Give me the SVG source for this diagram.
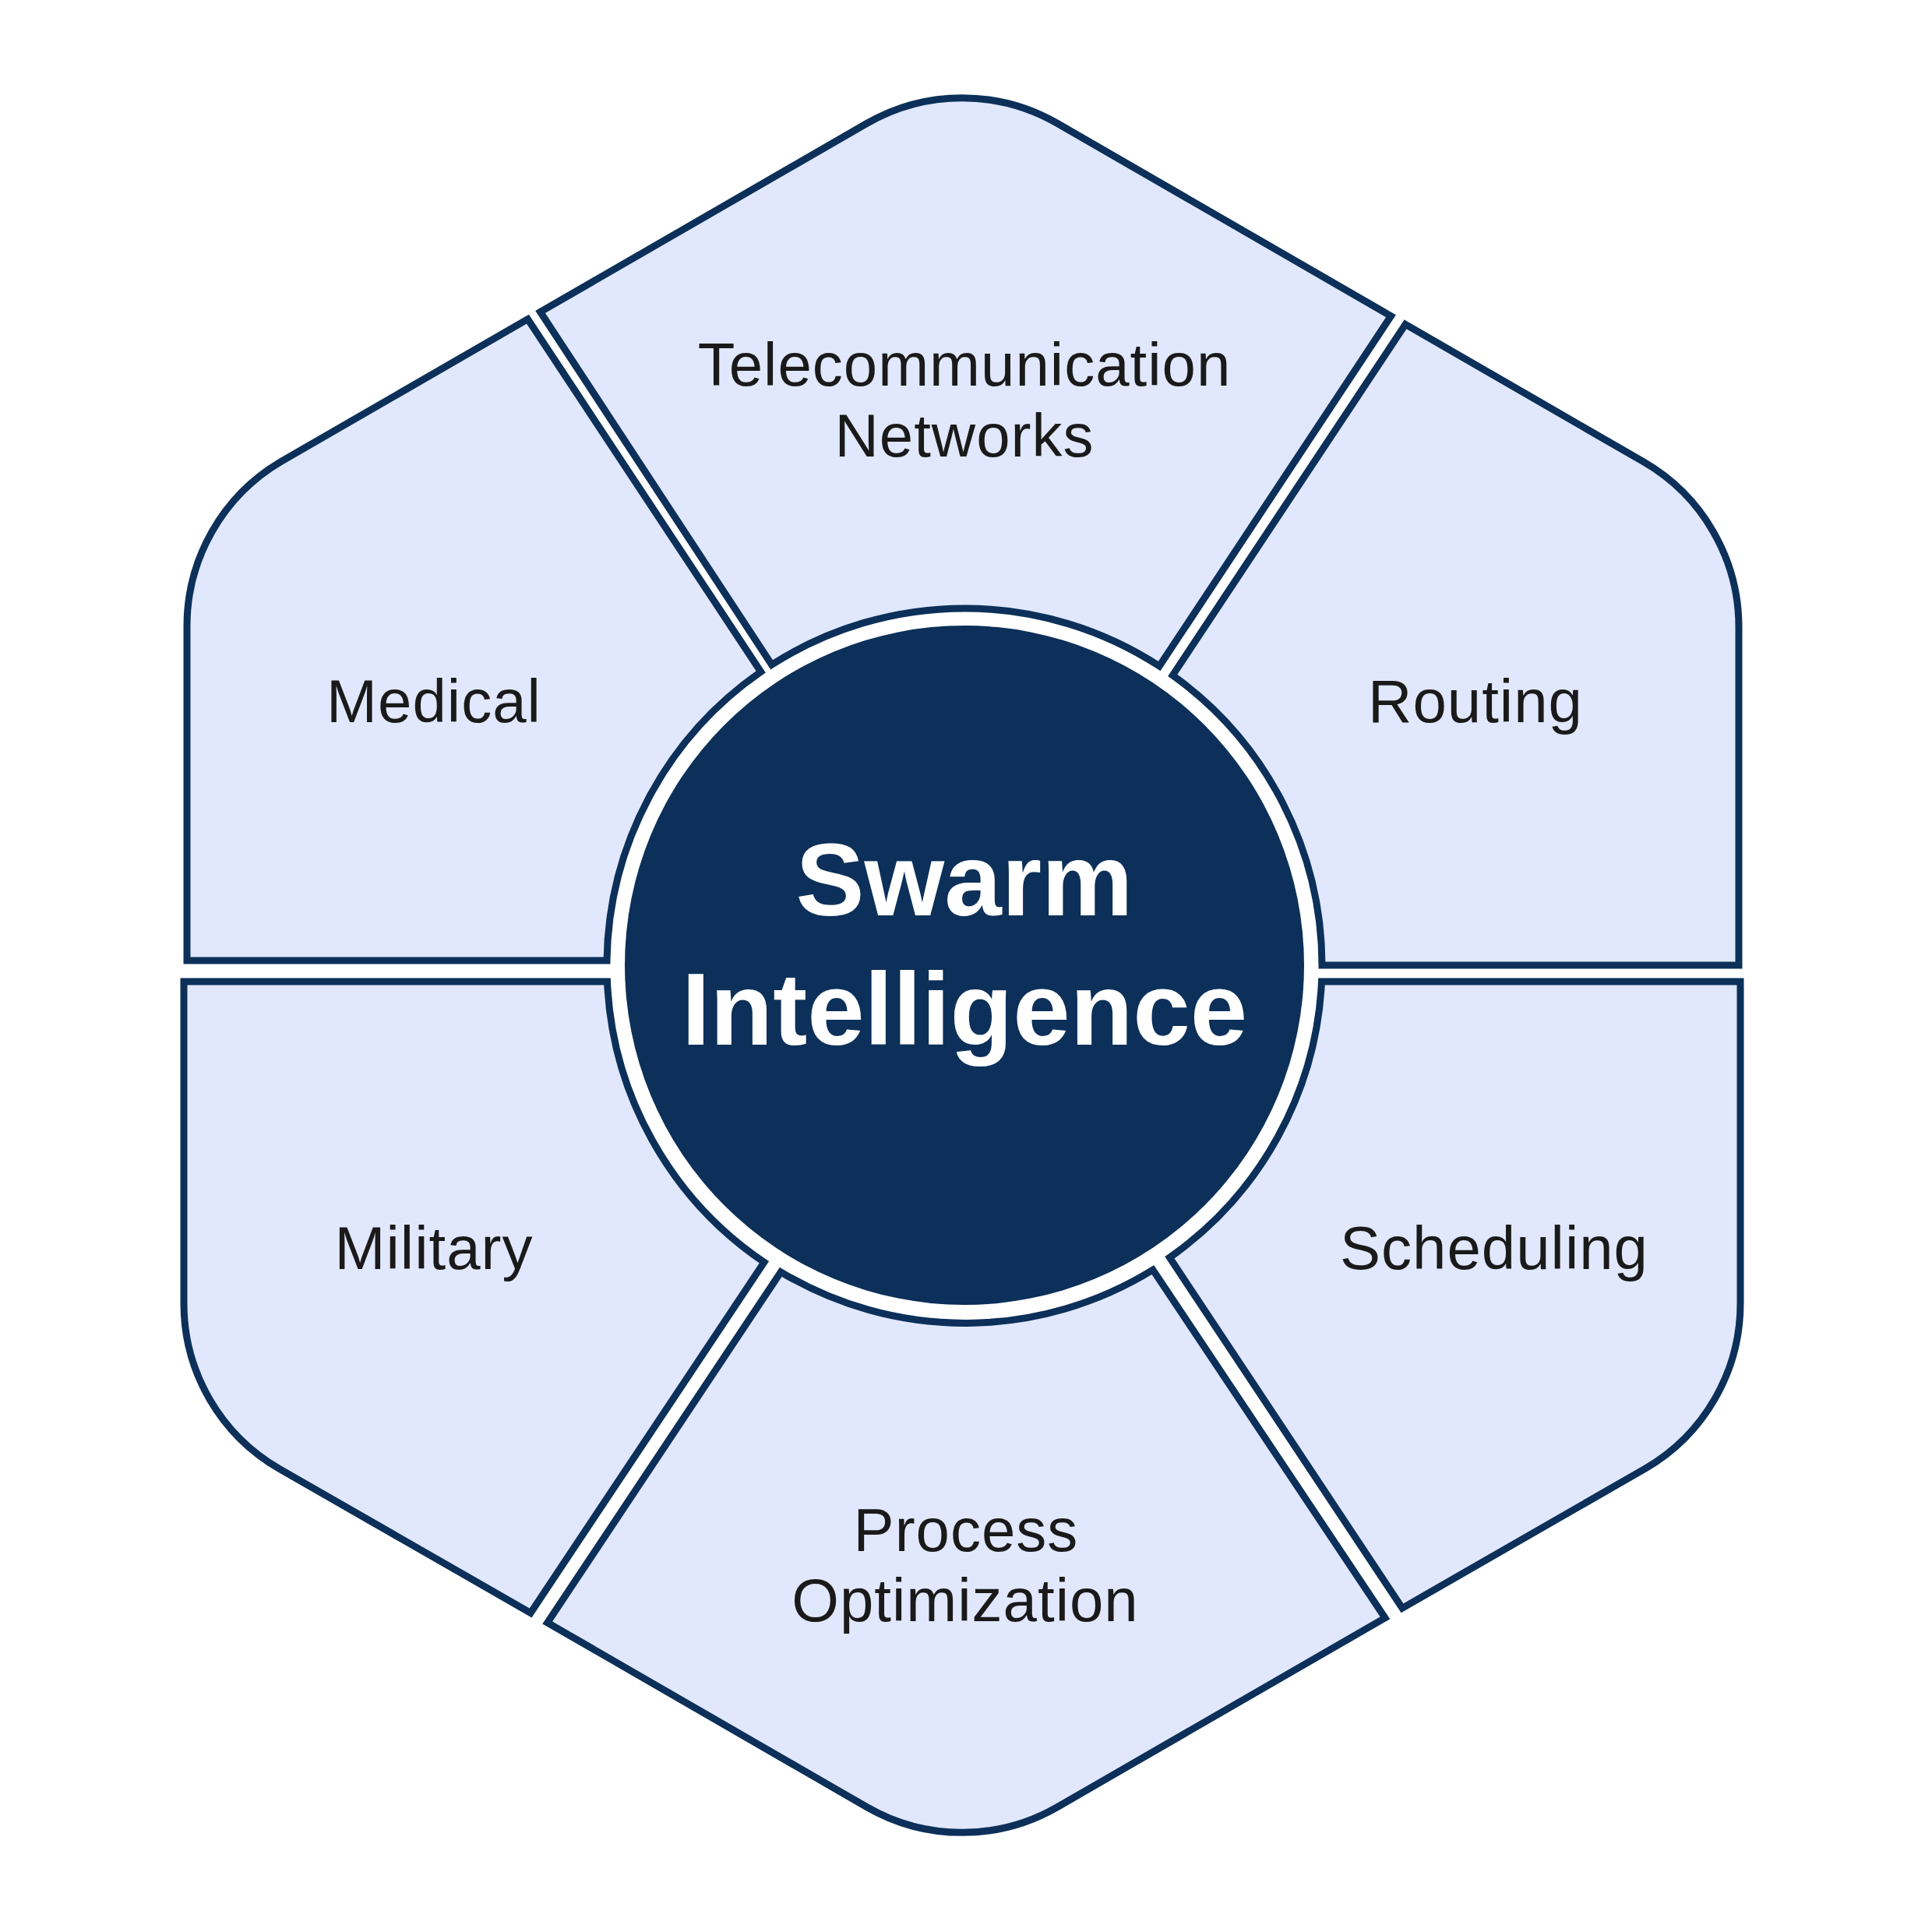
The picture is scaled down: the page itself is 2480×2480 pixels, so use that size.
<svg xmlns="http://www.w3.org/2000/svg" width="2480" height="2480" viewBox="0 0 2480 2480">
  <style>
    .seg { fill: #E1E8FD; stroke: #0C3059; stroke-width: 9; stroke-linejoin: miter; }
    .lbl { font-family: "Liberation Sans", Arial, sans-serif; font-size: 78px; letter-spacing: 1px; fill: #1A1A1A; text-anchor: middle; }
    .core { fill: #0C3059; }
    .title { font-family: "Liberation Sans", Arial, sans-serif; font-size: 132px; font-weight: bold; fill: #FFFFFF; text-anchor: middle; }
  </style>
  <rect width="2480" height="2480" fill="#FFFFFF"/>
  <g id="connectors"/>
  <g id="telecom">
    <path class="seg" d="M 693.6,400.4 L 1112.5,158.5 A 245 245 0 0 1 1357.5,158.5 L 1785.5,405.7 L 1488.2,855.1 A 459 459 0 0 0 990.6,853.3 Z"/>
    <text class="lbl" x="1238" y="495">Telecommunication</text>
    <text class="lbl" x="1238" y="586">Networks</text>
  </g>
  <g id="routing">
    <path class="seg" d="M 1804.1,416.3 L 2109.5,592.7 A 245 245 0 0 1 2232,804.9 L 2232,1239 L 1697,1239 A 459 459 0 0 0 1505.3,866.8 Z"/>
    <text class="lbl" x="1894" y="927">Routing</text>
  </g>
  <g id="scheduling">
    <path class="seg" d="M 1696.5,1260 L 2234,1260 L 2234,1673.2 A 245 245 0 0 1 2111.5,1885.3 L 1800,2064.3 L 1501.4,1614.2 A 459 459 0 0 0 1696.5,1260 Z"/>
    <text class="lbl" x="1918" y="1629">Scheduling</text>
  </g>
  <g id="process">
    <path class="seg" d="M 1002.3,1632.8 A 459 459 0 0 0 1479.9,1630 L 1777.9,2076.8 L 1357.5,2319.5 A 245 245 0 0 1 1112.5,2319.5 L 702.7,2082.9 Z"/>
    <text class="lbl" x="1240" y="1991">Process</text>
    <text class="lbl" x="1239" y="2081">Optimization</text>
  </g>
  <g id="military">
    <path class="seg" d="M 236,1260 L 779.5,1260 A 459 459 0 0 0 980.9,1620.3 L 681.1,2070.4 L 358.5,1885.3 A 245 245 0 0 1 236,1673.2 Z"/>
    <text class="lbl" x="557" y="1629">Military</text>
  </g>
  <g id="medical">
    <path class="seg" d="M 677.5,409.7 L 360.5,592.7 A 245 245 0 0 0 240,804.9 L 240,1233 L 779,1233 A 459 459 0 0 1 976.7,862.4 Z"/>
    <text class="lbl" x="557" y="927">Medical</text>
  </g>
  <g id="center">
    <circle class="core" cx="1238" cy="1239" r="436"/>
    <text class="title" x="1238" y="1175">Swarm</text>
    <text class="title" x="1238" y="1341">Intelligence</text>
  </g>
</svg>
